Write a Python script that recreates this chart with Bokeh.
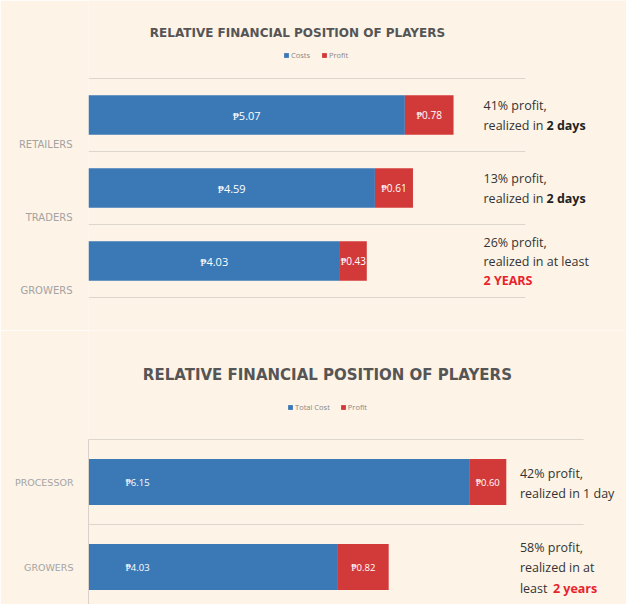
from bokeh.plotting import figure
from bokeh.layouts import column
from bokeh.models import FixedTicker, Label, Range1d
from bokeh.core.properties import value
from bokeh.embed import file_html
from bokeh.resources import INLINE

# ---------------- data ----------------
title_text = "RELATIVE FINANCIAL POSITION OF PLAYERS"

top_players = ["RETAILERS", "TRADERS", "GROWERS"]
top_costs = [5.07, 4.59, 4.03]
top_profits = [0.78, 0.61, 0.43]
top_cost_labels = ["₱5.07", "₱4.59", "₱4.03"]
top_profit_labels = ["₱0.78", "₱0.61", "₱0.43"]
top_note_line1 = ["41% profit,", "13% profit,", "26% profit,"]
top_note_line2 = ["realized in", "realized in", "realized in at least"]
top_note_bold = ["2 days", "2 days", ""]
top_note_red = ["", "", "2 YEARS"]

bot_players = ["PROCESSOR", "GROWERS"]
bot_costs = [6.15, 4.03]
bot_profits = [0.60, 0.82]
bot_cost_labels = ["₱6.15", "₱4.03"]
bot_profit_labels = ["₱0.60", "₱0.82"]
bot_note_line1 = ["42% profit,", "58% profit,"]
bot_note_line2 = ["realized in 1 day", "realized in at"]
bot_note_line3 = ["", "least"]
bot_note_red = ["", "2 years"]

# ---------------- style ----------------
BG = "#fdf3e7"
BLUE = "#3b79b6"
RED = "#d23a3a"
BRIGHT_RED = "#e8242b"
GRID = "#ddd6cc"
FONT = value("Open Sans")
W = 626


def base_fig(width, height, border_left, yr, xr):
    p = figure(width=width, height=height, output_backend="svg", toolbar_location=None,
               x_range=xr, y_range=yr, x_axis_location=None,
               min_border_left=border_left, min_border_right=0, min_border_top=0,
               min_border_bottom=0)
    p.background_fill_color = BG
    p.border_fill_color = BG
    p.outline_line_color = None
    p.xgrid.visible = False
    p.ygrid.visible = False
    return p


# ================= TOP CHART =================
n1 = len(top_players)
t_centers = [n1 - i - 0.5 for i in range(n1)]
t_totals = [c + q for c, q in zip(top_costs, top_profits)]
t_ticks = [c - 0.4 for c in t_centers]

H1 = 330
p1 = base_fig(W, H1, 88, Range1d(3 - (H1 - 78) / 73, 3 + 78 / 73), Range1d(0, (W - 88) / 62.4))

bounds1 = [float(k) for k in range(n1 + 1)]
p1.segment(x0=[0] * len(bounds1), x1=[7.0] * len(bounds1), y0=bounds1, y1=bounds1,
           line_color=GRID, line_width=1)

p1.hbar(y=t_centers, left=0, right=top_costs, height=0.54, fill_color=BLUE,
        line_color=None, legend_label="Costs")
p1.hbar(y=t_centers, left=top_costs, right=t_totals, height=0.54, fill_color=RED,
        line_color=None, legend_label="Profit")

p1.text(x=[c / 2 for c in top_costs], y=t_centers, text=top_cost_labels,
        text_color="white", text_font=FONT, text_font_size="11px",
        text_align="center", text_baseline="middle")
p1.text(x=[c + q / 2 for c, q in zip(top_costs, top_profits)], y=t_centers,
        text=top_profit_labels, text_color="white", text_font=FONT,
        text_font_size="10px", text_align="center", text_baseline="middle")

NX1 = (483 - 88) / 62.4
nl = [2 if r == "" else 3 for r in top_note_red]
y1_off = [-10 if k == 2 else -19 for k in nl]
y2_off = [10 if k == 2 else 0 for k in nl]
NOTE1 = "12.5px"
p1.text(x=[NX1] * n1, y=t_centers, text=top_note_line1, y_offset=y1_off,
        text_color="#333333", text_font=FONT, text_font_size=NOTE1,
        text_baseline="middle")
p1.text(x=[NX1] * n1, y=t_centers, text=top_note_line2, y_offset=y2_off,
        text_color="#333333", text_font=FONT, text_font_size=NOTE1,
        text_baseline="middle")
p1.text(x=[NX1] * n1, y=t_centers, text=top_note_bold, y_offset=y2_off, x_offset=63,
        text_color="#222222", text_font=FONT, text_font_size=NOTE1,
        text_font_style="bold", text_baseline="middle")
p1.text(x=[NX1] * n1, y=t_centers, text=top_note_red, y_offset=19,
        text_color=BRIGHT_RED, text_font=FONT, text_font_size=NOTE1,
        text_font_style="bold", text_baseline="middle")

p1.add_layout(Label(x=(297 - 88) / 62.4, y=3 + (78 - 32) / 73, text=title_text,
                    text_align="center", text_baseline="middle", text_font="DejaVu Sans",
                    text_font_size="12px", text_font_style="bold", text_color="#555555"))

ax1 = p1.yaxis[0]
ax1.ticker = FixedTicker(ticks=t_ticks)
ax1.major_label_overrides = {t: lab for t, lab in zip(t_ticks, top_players)}
ax1.axis_line_color = None
ax1.major_tick_line_color = None
ax1.minor_tick_line_color = None
ax1.major_label_text_font = "DejaVu Sans"
ax1.major_label_text_font_size = "10px"
ax1.major_label_text_color = "#a3a3a3"
ax1.major_label_standoff = 10

lg1 = p1.legend[0]
lg1.orientation = "horizontal"
lg1.location = (195, H1 - 60)
lg1.background_fill_alpha = 0
lg1.border_line_color = None
lg1.padding = 0
lg1.margin = 0
lg1.spacing = 10
lg1.glyph_width = 6
lg1.glyph_height = 6
lg1.label_standoff = 2
lg1.label_text_font = "Open Sans"
lg1.label_text_font_size = "7.5px"
lg1.label_text_color = "#888888"
lg1.label_height = 8

# ================= BOTTOM CHART =================
n2 = len(bot_players)
b_centers = [n2 - i - 0.5 for i in range(n2)]
b_totals = [c + q for c, q in zip(bot_costs, bot_profits)]

H2 = 604 - H1
p2 = base_fig(W, H2, 81, Range1d(2 - (604 - 439) / 85, 2 + (439 - H1) / 85),
              Range1d(0, (W - 81) / 62.7))

bounds2 = [float(k) for k in range(1, n2 + 1)]
p2.segment(x0=[0] * len(bounds2), x1=[8.0] * len(bounds2), y0=bounds2, y1=bounds2,
           line_color=GRID, line_width=1)

p2.hbar(y=b_centers, left=0, right=bot_costs, height=0.54, fill_color=BLUE,
        line_color=None, legend_label="Total Cost")
p2.hbar(y=b_centers, left=bot_costs, right=b_totals, height=0.54, fill_color=RED,
        line_color=None, legend_label="Profit")

p2.text(x=[0] * n2, y=b_centers, text=bot_cost_labels, x_offset=37,
        text_color="white", text_font=FONT, text_font_size="9.5px",
        text_align="left", text_baseline="middle")
p2.text(x=[c + q / 2 for c, q in zip(bot_costs, bot_profits)], y=b_centers,
        text=bot_profit_labels, text_color="white", text_font=FONT,
        text_font_size="9.5px", text_align="center", text_baseline="middle")

NX2 = (518 - 81) / 62.7
nl2 = [2 if r == "" else 3 for r in bot_note_red]
b1_off = [-9 if k == 2 else -20 for k in nl2]
b2_off = [11 if k == 2 else 0 for k in nl2]
NOTE2 = "12.5px"
p2.text(x=[NX2] * n2, y=b_centers, text=bot_note_line1, y_offset=b1_off,
        text_color="#333333", text_font=FONT, text_font_size=NOTE2,
        text_baseline="middle")
p2.text(x=[NX2] * n2, y=b_centers, text=bot_note_line2, y_offset=b2_off,
        text_color="#333333", text_font=FONT, text_font_size=NOTE2,
        text_baseline="middle")
p2.text(x=[NX2] * n2, y=b_centers, text=bot_note_line3, y_offset=21,
        text_color="#333333", text_font=FONT, text_font_size=NOTE2,
        text_baseline="middle")
p2.text(x=[NX2] * n2, y=b_centers, text=bot_note_red, y_offset=21, x_offset=33,
        text_color=BRIGHT_RED, text_font=FONT, text_font_size=NOTE2,
        text_font_style="bold", text_baseline="middle")

p2.add_layout(Label(x=(323 - 81) / 62.7, y=2 + (439 - 374) / 85, text=title_text,
                    text_align="center", text_baseline="middle", text_font="DejaVu Sans",
                    text_font_size="15px", text_font_style="bold", text_color="#555555"))

ax2 = p2.yaxis[0]
ax2.ticker = FixedTicker(ticks=b_centers)
ax2.major_label_overrides = {t: lab for t, lab in zip(b_centers, bot_players)}
ax2.bounds = (0, n2)
ax2.axis_line_color = "#d8d2ca"
ax2.major_tick_line_color = None
ax2.minor_tick_line_color = None
ax2.major_label_text_font = "DejaVu Sans"
ax2.major_label_text_font_size = "9.5px"
ax2.major_label_text_color = "#a3a3a3"
ax2.major_label_standoff = 9

lg2 = p2.legend[0]
lg2.orientation = "horizontal"
lg2.location = (199, H2 - 82)
lg2.background_fill_alpha = 0
lg2.border_line_color = None
lg2.padding = 0
lg2.margin = 0
lg2.spacing = 10
lg2.glyph_width = 6
lg2.glyph_height = 6
lg2.label_standoff = 2
lg2.label_text_font = "Open Sans"
lg2.label_text_font_size = "7.5px"
lg2.label_text_color = "#888888"
lg2.label_height = 8

layout = column(p1, p2, spacing=0)
open("out.html", "w").write(file_html(layout, INLINE))
